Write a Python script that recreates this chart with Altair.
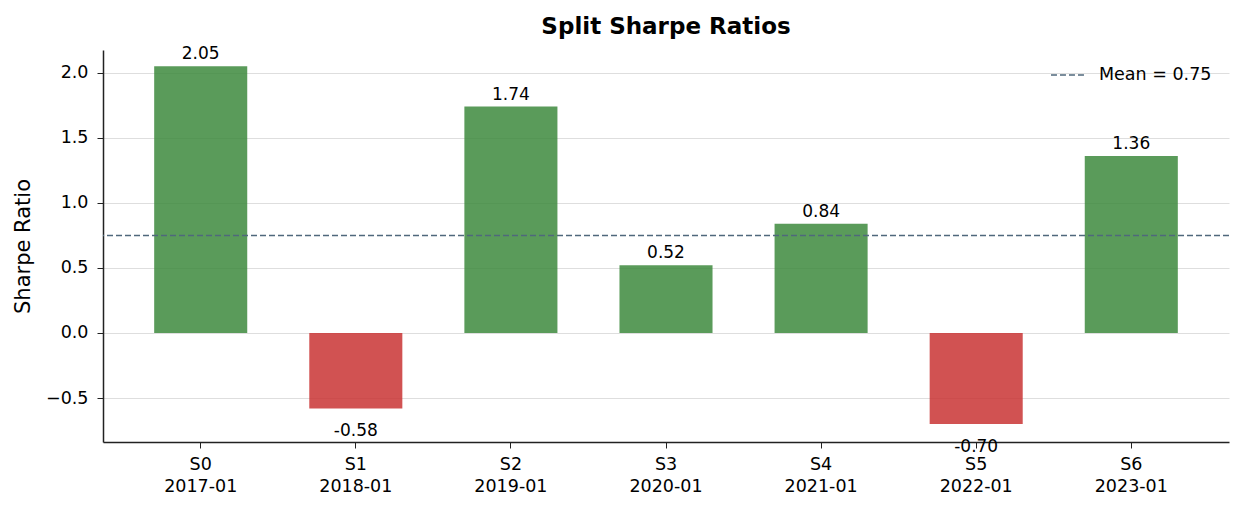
import altair as alt
import pandas as pd

# Per-split Sharpe ratios
splits = ["S0", "S1", "S2", "S3", "S4", "S5", "S6"]
start_months = ["2017-01", "2018-01", "2019-01", "2020-01", "2021-01", "2022-01", "2023-01"]
sharpe = [2.05, -0.58, 1.74, 0.52, 0.84, -0.70, 1.36]
mean_sharpe = 0.75

FONT = "DejaVu Sans"
GREEN = "#3d8a3d"
RED = "#c93434"
MEAN_COLOR = "#4f687c"

df = pd.DataFrame({
    "split": [f"{s}|{m}" for s, m in zip(splits, start_months)],
    "sharpe": sharpe,
    "label": [f"{v:.2f}" for v in sharpe],
    "sign": ["pos" if v >= 0 else "neg" for v in sharpe],
})
mean_df = pd.DataFrame({"mean": [mean_sharpe], "name": [f"Mean = {mean_sharpe:.2f}"]})

x_enc = alt.X(
    "split:N",
    sort=None,
    title=None,
    scale=alt.Scale(paddingInner=0.4, paddingOuter=0.33),
    axis=alt.Axis(
        labelExpr="split(datum.label, '|')",
        labelAngle=0,
        labelFont=FONT,
        labelFontSize=17.5,
        labelColor="#000000",
        labelLineHeight=22,
        labelPadding=7,
        tickSize=6,
        tickColor="#222222",
        domainColor="#222222",
        domainWidth=1.5,
        grid=False,
    ),
)
y_scale = alt.Scale(domain=[-0.838, 2.175], nice=False, zero=False)

bars = alt.Chart(df).mark_bar(opacity=0.85).encode(
    x=x_enc,
    y=alt.Y(
        "sharpe:Q",
        scale=y_scale,
        title="Sharpe Ratio",
        axis=alt.Axis(
            values=[-0.5, 0.0, 0.5, 1.0, 1.5, 2.0],
            labelExpr="replace(format(datum.value, '.1f'), '-', '\u2212')",
            labelFont=FONT,
            labelFontSize=17.5,
            labelColor="#000000",
            labelPadding=9,
            tickSize=6,
            tickColor="#222222",
            domainColor="#222222",
            domainWidth=1.5,
            grid=True,
            gridColor="#dedede",
            gridWidth=1,
            titleFont=FONT,
            titleFontSize=21,
            titleFontWeight="normal",
            titleColor="#000000",
            titlePadding=12,
        ),
    ),
    color=alt.Color(
        "sign:N",
        scale=alt.Scale(domain=["pos", "neg"], range=[GREEN, RED]),
        legend=None,
    ),
)

labels_pos = alt.Chart(df).transform_filter("datum.sharpe >= 0").mark_text(
    baseline="bottom", dy=-3, font=FONT, fontSize=17, color="#000000"
).encode(x=alt.X("split:N", sort=None), y=alt.Y("sharpe:Q", scale=y_scale), text="label:N")

labels_neg = alt.Chart(df).transform_filter("datum.sharpe < 0").mark_text(
    baseline="top", dy=15, font=FONT, fontSize=17, color="#000000"
).encode(x=alt.X("split:N", sort=None), y=alt.Y("sharpe:Q", scale=y_scale), text="label:N")

mean_rule = alt.Chart(mean_df).mark_rule(strokeDash=[6, 3], strokeWidth=1.5, opacity=1).encode(
    y=alt.Y("mean:Q", scale=y_scale),
    stroke=alt.Stroke(
        "name:N",
        scale=alt.Scale(range=[MEAN_COLOR]),
        legend=alt.Legend(
            title=None,
            orient="none",
            legendX=947,
            legendY=6,
            symbolType="stroke",
            symbolDash=[6, 3],
            symbolStrokeWidth=1.5,
            symbolSize=1300,
            symbolOpacity=1,
            labelFont=FONT,
            labelFontSize=17.5,
            labelColor="#000000",
            labelOffset=11,
            padding=0,
        ),
    ),
)

chart = alt.layer(bars, mean_rule, labels_pos, labels_neg).properties(
    width=1126,
    height=392,
    title=alt.Title(
        "Split Sharpe Ratios",
        font=FONT,
        fontSize=23,
        fontWeight="bold",
        color="#000000",
        anchor="middle",
        offset=6,
    ),
    autosize=alt.AutoSizeParams(type="none"),
    padding={"left": 103, "top": 50, "right": 15, "bottom": 68},
).resolve_scale(color="independent").configure(
    background="#ffffff"
).configure_view(stroke=None)

chart.save("out.html", embed_options={"renderer": "svg", "actions": False})
